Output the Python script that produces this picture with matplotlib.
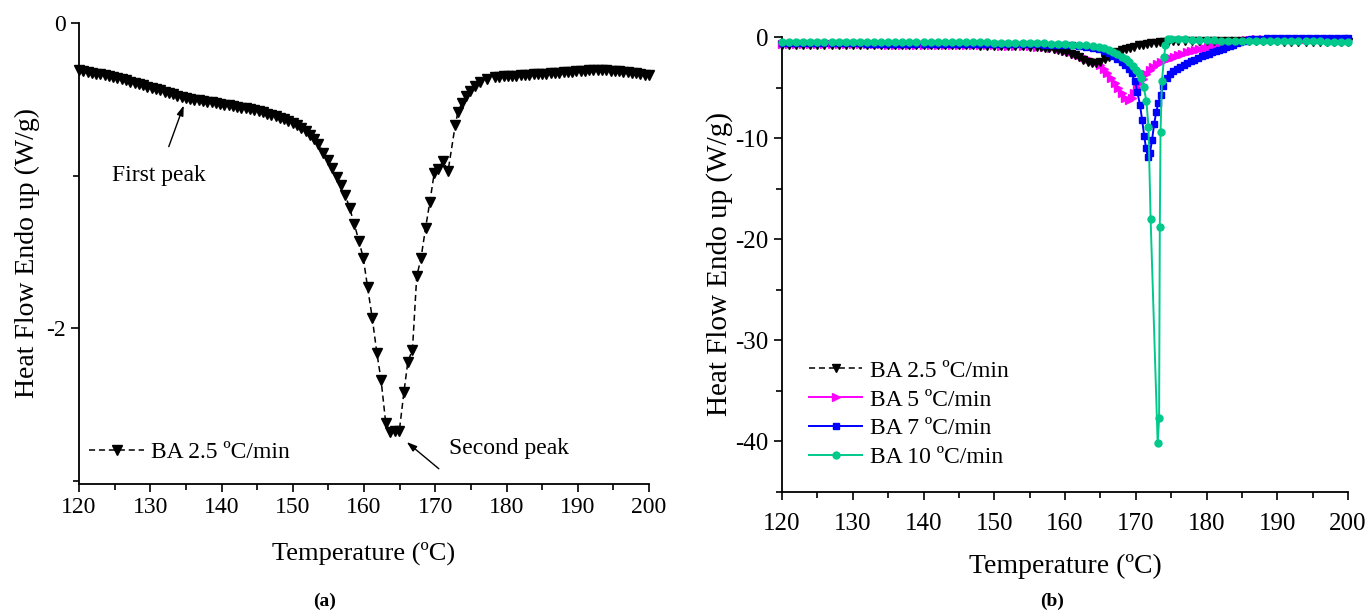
import matplotlib
matplotlib.use("Agg")
import matplotlib.pyplot as plt
from matplotlib.ticker import MultipleLocator

plt.rcParams['font.family'] = ['Liberation Serif', 'DejaVu Serif']
plt.rcParams['axes.unicode_minus'] = False

# ---------------- data: BA 2.5 ºC/min (panel a)
t_25 = [120.0, 120.6, 121.2, 121.8, 122.4, 123.0, 123.6, 124.2, 124.8, 125.4,
        126.0, 126.6, 127.2, 127.8, 128.4, 129.0, 129.6, 130.2, 130.8, 131.4,
        132.0, 132.6, 133.2, 133.8, 134.4, 135.0, 135.6, 136.2, 136.8, 137.4,
        138.0, 138.6, 139.2, 139.8, 140.4, 141.0, 141.6, 142.2, 142.8, 143.4,
        144.0, 144.6, 145.2, 145.8, 146.4, 147.0, 147.6, 148.2, 148.8, 149.4,
        150.0, 150.6, 151.2, 151.8, 152.4, 153.0, 153.6, 154.3, 155.0, 155.55,
        156.2, 156.75, 157.4, 158.0, 158.65, 159.3, 159.9, 160.5, 161.15, 161.8,
        162.4, 163.05, 163.65, 164.35, 164.95, 165.6, 166.15, 166.8, 167.4, 168.0,
        168.65, 169.25, 169.85, 170.45, 171.1, 171.8, 172.8, 173.2, 173.75, 174.3,
        174.9, 175.6, 176.3, 177.3, 178.4, 179.0, 179.6, 180.2, 180.8, 181.4,
        182.0, 182.6, 183.2, 183.8, 184.4, 185.0, 185.6, 186.2, 186.8, 187.4,
        188.0, 188.6, 189.2, 189.8, 190.4, 191.0, 191.6, 192.2, 192.8, 193.4,
        194.0, 194.6, 195.2, 195.8, 196.4, 197.0, 197.6, 198.2, 198.8, 199.4,
        200.0]
hf_25 = [-0.310, -0.315, -0.320, -0.326, -0.331, -0.337, -0.342, -0.348, -0.354, -0.361,
         -0.368, -0.376, -0.384, -0.392, -0.400, -0.408, -0.416, -0.424, -0.432, -0.440,
         -0.449, -0.458, -0.468, -0.478, -0.487, -0.494, -0.499, -0.503, -0.507, -0.511,
         -0.515, -0.519, -0.524, -0.529, -0.534, -0.539, -0.544, -0.549, -0.554, -0.560,
         -0.566, -0.572, -0.579, -0.586, -0.594, -0.602, -0.611, -0.620, -0.631, -0.643,
         -0.656, -0.671, -0.688, -0.708, -0.731, -0.757, -0.790, -0.850, -0.900, -0.950,
         -1.010, -1.060, -1.130, -1.215, -1.320, -1.430, -1.540, -1.730, -1.930, -2.160,
         -2.340, -2.620, -2.680, -2.675, -2.675, -2.420, -2.220, -2.140, -1.660, -1.540,
         -1.340, -1.170, -0.985, -0.955, -0.905, -0.970, -0.670, -0.580, -0.525, -0.480,
         -0.446, -0.413, -0.387, -0.367, -0.354, -0.352, -0.350, -0.349, -0.347, -0.345,
         -0.343, -0.341, -0.339, -0.337, -0.335, -0.333, -0.331, -0.329, -0.327, -0.325,
         -0.323, -0.321, -0.319, -0.317, -0.315, -0.313, -0.311, -0.310, -0.309, -0.309,
         -0.310, -0.312, -0.314, -0.316, -0.319, -0.322, -0.326, -0.330, -0.334, -0.338,
         -0.342]

# ---------------- data: BA 2.5 ºC/min as drawn in panel (b)
t_25b = [120, 121, 122, 123, 124, 125, 126, 127, 128, 129, 130, 131, 132, 133, 134,
         135, 136, 137, 138, 139, 140, 141, 142, 143, 144, 145, 146, 147, 148, 149,
         150, 151, 152, 153, 154, 155, 156, 156.6, 157.2, 157.8, 158.4, 159.0, 159.6,
         160.2, 160.8, 161.4, 162.0, 162.6, 163.2, 163.8, 164.4, 165.0, 165.6, 166.2,
         166.8, 167.4, 168.0, 168.6, 169.2, 169.8, 170.4, 171.0, 171.6, 172.2, 172.8,
         173.4, 174.0, 174.6, 175.2, 176, 177, 178, 179, 180, 181, 182, 183, 184, 185,
         186, 187, 188, 189, 190, 191, 192, 193, 194, 195, 196, 197, 198, 199, 200]
hf_25b = [-0.75, -0.75, -0.75, -0.76, -0.76, -0.76, -0.76, -0.77, -0.77, -0.77, -0.77,
          -0.78, -0.78, -0.78, -0.78, -0.79, -0.79, -0.79, -0.79, -0.80, -0.80, -0.80,
          -0.81, -0.81, -0.82, -0.82, -0.83, -0.84, -0.85, -0.86, -0.87, -0.88, -0.89,
          -0.91, -0.93, -0.95, -0.99, -1.02, -1.06, -1.11, -1.17, -1.25, -1.35, -1.50,
          -1.65, -1.82, -2.00, -2.25, -2.50, -2.62, -2.60, -2.45, -2.20, -1.95, -1.70,
          -1.50, -1.33, -1.18, -1.05, -0.94, -0.84, -0.76, -0.68, -0.62, -0.57, -0.52,
          -0.48, -0.45, -0.43, -0.42, -0.42, -0.42, -0.42, -0.43, -0.43, -0.43, -0.43,
          -0.43, -0.44, -0.44, -0.44, -0.44, -0.44, -0.44, -0.45, -0.45, -0.45, -0.45,
          -0.45, -0.45, -0.45, -0.45, -0.45, -0.45]

# ---------------- data: BA 5 ºC/min
t_5 = [120, 121, 122, 123, 124, 125, 126, 127, 128, 129, 130, 131, 132, 133, 134,
       135, 136, 137, 138, 139, 140, 141, 142, 143, 144, 145, 146, 147, 148, 149,
       150, 151, 152, 153, 154, 155, 156, 157, 158, 159, 160, 160.7, 161.4, 162.0,
       162.6, 163.2, 163.8, 164.4, 165.0, 165.5, 166.0, 166.5, 167.0, 167.5, 168.0,
       168.5, 169.0, 169.4, 169.8, 170.2, 170.6, 171.0, 171.5, 172.0, 172.5, 173.0,
       173.6, 174.2, 174.8, 175.4, 176.0, 176.6, 177.2, 177.8, 178.4, 179.0, 179.6,
       180.2, 180.8, 181.4, 182.0, 182.6, 183.2, 183.8, 184.4, 185.0, 185.6, 186.2,
       187, 188, 189, 190, 191, 192, 193, 194, 195, 196, 197, 198, 199, 200]
hf_5 = [-0.70, -0.70, -0.70, -0.71, -0.71, -0.71, -0.72, -0.72, -0.72, -0.73, -0.73,
        -0.73, -0.74, -0.74, -0.74, -0.75, -0.75, -0.75, -0.76, -0.76, -0.76, -0.77,
        -0.77, -0.78, -0.78, -0.79, -0.80, -0.81, -0.82, -0.83, -0.84, -0.85, -0.86,
        -0.87, -0.89, -0.91, -0.95, -1.00, -1.10, -1.22, -1.37, -1.50, -1.65, -1.80,
        -1.98, -2.15, -2.33, -2.50, -2.80, -3.20, -3.60, -4.05, -4.55, -5.00, -5.50,
        -6.00, -6.25, -6.00, -5.50, -5.00, -4.55, -4.15, -3.70, -3.30, -2.95, -2.70,
        -2.45, -2.28, -2.12, -1.95, -1.80, -1.65, -1.52, -1.40, -1.28, -1.17, -1.07,
        -0.97, -0.88, -0.79, -0.70, -0.62, -0.55, -0.48, -0.42, -0.36, -0.31, -0.27,
        -0.23, -0.20, -0.18, -0.17, -0.16, -0.16, -0.15, -0.15, -0.15, -0.15, -0.15,
        -0.15, -0.15, -0.15]

# ---------------- data: BA 7 ºC/min
t_7 = [120, 121, 122, 123, 124, 125, 126, 127, 128, 129, 130, 131, 132, 133, 134,
       135, 136, 137, 138, 139, 140, 141, 142, 143, 144, 145, 146, 147, 148, 149,
       150, 151, 152, 153, 154, 155, 156, 157, 158, 159, 160, 161, 162, 163, 164,
       164.8, 165.5, 166.2, 166.8, 167.4, 168.0, 168.5, 169.0, 169.4, 169.9, 170.2,
       170.6, 170.9, 171.2, 171.45, 171.7, 172.0, 172.3, 172.6, 172.9, 173.2, 173.5,
       173.9, 174.4, 174.8, 175.3, 175.8, 176.3, 176.8, 177.3, 177.8, 178.3, 178.8,
       179.3, 179.8, 180.3, 180.8, 181.3, 181.8, 182.3, 182.8, 183.3, 183.8, 184.3,
       184.8, 185.3, 185.8, 186.3, 186.8, 187.5, 188.5, 189.5, 190.5, 191.5, 192.5,
       193.5, 194.5, 195.5, 196.5, 197.5, 198.5, 199.5, 200]
hf_7 = [-0.62, -0.62, -0.62, -0.62, -0.63, -0.63, -0.63, -0.63, -0.64, -0.64, -0.64,
        -0.64, -0.65, -0.65, -0.65, -0.65, -0.66, -0.66, -0.66, -0.66, -0.67, -0.67,
        -0.67, -0.67, -0.68, -0.68, -0.68, -0.69, -0.69, -0.69, -0.69, -0.70, -0.70,
        -0.71, -0.72, -0.73, -0.74, -0.75, -0.76, -0.77, -0.79, -0.82, -0.88, -0.95,
        -1.05, -1.18, -1.35, -1.58, -1.85, -2.15, -2.45, -2.80, -3.20, -3.60, -4.40,
        -5.40, -6.70, -8.20, -9.80, -11.00, -11.85, -11.50, -10.20, -8.60, -7.40, -6.50,
        -5.70, -4.80, -4.10, -3.65, -3.35, -3.15, -2.95, -2.75, -2.57, -2.40, -2.23,
        -2.07, -1.92, -1.78, -1.65, -1.52, -1.40, -1.27, -1.14, -1.01, -0.88, -0.75,
        -0.62, -0.50, -0.40, -0.31, -0.24, -0.19, -0.16, -0.14, -0.13, -0.13, -0.13,
        -0.12, -0.12, -0.12, -0.12, -0.12, -0.12, -0.12, -0.12, -0.12]

# ---------------- data: BA 10 ºC/min
t_10 = [120, 121, 122, 123, 124, 125, 126, 127, 128, 129, 130, 131, 132, 133, 134,
        135, 136, 137, 138, 139, 140, 141, 142, 143, 144, 145, 146, 147, 148, 149,
        150, 151, 152, 153, 154, 155, 156, 157, 158, 159, 160, 161, 162, 163, 164,
        164.8, 165.5, 166.2, 166.8, 167.4, 168.0, 168.6, 169.1, 169.6, 170.1, 170.5,
        170.8, 171.1, 171.5, 171.8, 172.1, 173.1, 173.3, 173.4, 173.5, 173.7, 174.0,
        174.2, 174.5, 175, 176, 177, 178, 179, 180, 181, 182, 183, 184, 185, 186,
        187, 188, 189, 190, 191, 192, 193, 194, 195, 196, 197, 198, 199, 200]
hf_10 = [-0.46, -0.46, -0.46, -0.46, -0.47, -0.47, -0.47, -0.47, -0.47, -0.47, -0.47,
         -0.48, -0.48, -0.48, -0.48, -0.49, -0.49, -0.49, -0.50, -0.50, -0.50, -0.50,
         -0.51, -0.51, -0.51, -0.52, -0.52, -0.53, -0.53, -0.54, -0.55, -0.56, -0.57,
         -0.58, -0.59, -0.60, -0.62, -0.64, -0.66, -0.68, -0.71, -0.75, -0.79, -0.84,
         -0.90, -0.98, -1.10, -1.27, -1.47, -1.70, -1.93, -2.20, -2.50, -2.85, -3.25,
         -3.60, -4.10, -4.90, -6.30, -8.90, -18.0, -40.2, -37.7, -18.8, -9.4, -4.4,
         -2.0, -0.8, -0.20, -0.15, -0.20, -0.24, -0.27, -0.30, -0.32, -0.34, -0.36,
         -0.38, -0.39, -0.40, -0.41, -0.41, -0.42, -0.42, -0.43, -0.43, -0.43, -0.44,
         -0.44, -0.44, -0.44, -0.45, -0.45, -0.45, -0.45]

xticks = [120, 130, 140, 150, 160, 170, 180, 190, 200]
series_labels = ['BA 2.5 ºC/min', 'BA 5 ºC/min', 'BA 7 ºC/min', 'BA 10 ºC/min']

W, H = 1368, 614
fig = plt.figure(figsize=(W / 100, H / 100), dpi=100)

LEG_FS = 17


def style_axes(ax, tick_fs, xlabel_fs, ylabel_fs, xpad, xlabelpad, ylabelpad):
    for side in ('top', 'right'):
        ax.spines[side].set_visible(False)
    for side in ('left', 'bottom'):
        ax.spines[side].set_linewidth(1.3)
    ax.tick_params(which='major', direction='out', length=6, width=1.2,
                   labelsize=tick_fs)
    ax.tick_params(which='minor', direction='out', length=4, width=1.2)
    ax.tick_params(axis='x', which='major', pad=xpad)
    ax.set_xlim(120, 200)
    ax.set_xticks(xticks)
    ax.xaxis.set_minor_locator(MultipleLocator(5))
    ax.set_xlabel('Temperature (ºC)', fontsize=xlabel_fs, labelpad=xlabelpad)
    ax.set_ylabel('Heat Flow Endo up (W/g)', fontsize=ylabel_fs, labelpad=ylabelpad)


# ---------------- panel (a)
axa = fig.add_axes([79 / W, 1 - 484 / H, 570 / W, (484 - 23) / H])
style_axes(axa, 17, 19, 20, 3.5, 16.5, 4.5)
axa.set_ylim(-3.02, 0)
axa.yaxis.set_major_locator(MultipleLocator(2))
axa.yaxis.set_minor_locator(MultipleLocator(1))
axa.plot(t_25, hf_25, color='black', linestyle=(0, (4, 2.5)), linewidth=1.1,
         marker='v', markersize=6.5, label=series_labels[0], clip_on=False)
axa.legend(loc='center left', bbox_to_anchor=(0.01, 0.069), frameon=False,
           fontsize=LEG_FS, handlelength=2.3, handletextpad=0.3,
           borderpad=0.2, borderaxespad=0)
axa.annotate('', xy=(134.7, -0.54), xytext=(132.6, -0.81),
             arrowprops=dict(arrowstyle='-|>,head_length=0.6,head_width=0.2',
                             color='black', lw=1.0, shrinkA=0, shrinkB=0))
axa.text(131.2, -1.0, 'First peak', fontsize=17, ha='center', va='center')
axa.annotate('', xy=(166.0, -2.745), xytext=(170.5, -2.92),
             arrowprops=dict(arrowstyle='-|>,head_length=0.6,head_width=0.2',
                             color='black', lw=1.0, shrinkA=0, shrinkB=0))
axa.text(171.9, -2.79, 'Second peak', fontsize=17, ha='left', va='center')

# ---------------- panel (b)
axb = fig.add_axes([782 / W, 1 - 492 / H, 566 / W, (492 - 37) / H])
style_axes(axb, 18, 20, 21, 9, 14, 2)
axb.set_ylim(-45, 0)
axb.yaxis.set_major_locator(MultipleLocator(10))
axb.yaxis.set_minor_locator(MultipleLocator(5))
axb.plot(t_25b, hf_25b, color='black', linestyle=(0, (4, 2.5)), linewidth=1.1,
         marker='v', markersize=6, label=series_labels[0], clip_on=False, zorder=4.5)
axb.plot(t_5, hf_5, color='#FF00FF', linestyle='-', linewidth=1.4,
         marker='>', markersize=6, label=series_labels[1], clip_on=False, zorder=4)
axb.plot(t_7, hf_7, color='#0000FF', linestyle='-', linewidth=1.4,
         marker='s', markersize=4.5, label=series_labels[2], clip_on=False, zorder=5)
axb.plot(t_10, hf_10, color='#00C98B', linestyle='-', linewidth=1.4,
         marker='o', markersize=5, label=series_labels[3], clip_on=False, zorder=6)
axb.legend(loc='upper left', bbox_to_anchor=(0.04, 0.30), frameon=False,
           fontsize=LEG_FS, handlelength=2.25, handletextpad=0.3,
           labelspacing=0.31, borderpad=0.2, borderaxespad=0)

fig.text(325 / W, 1 - 601 / H, '(a)', fontsize=14, fontweight='bold',
         ha='center', va='center')
fig.text(1052 / W, 1 - 601 / H, '(b)', fontsize=14, fontweight='bold',
         ha='center', va='center')

fig.savefig('out.png', dpi=100)
